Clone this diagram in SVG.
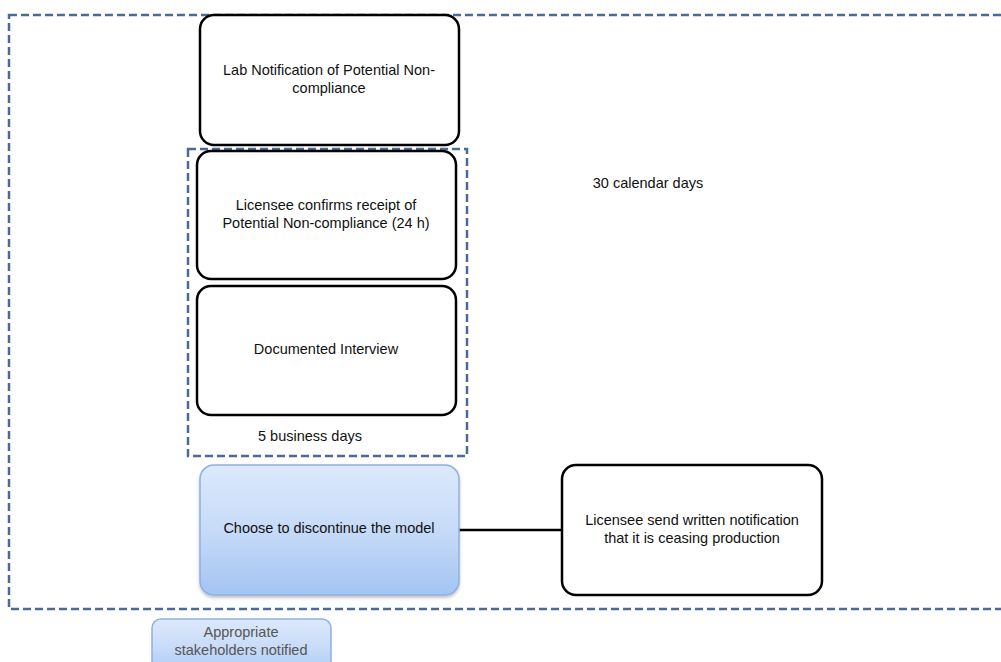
<svg xmlns="http://www.w3.org/2000/svg" width="1001" height="662" viewBox="0 0 1001 662">
<defs>
<linearGradient id="blueGrad" x1="0" y1="0" x2="0" y2="1">
<stop offset="0" stop-color="#dde9fc"/>
<stop offset="0.5" stop-color="#c6dbf8"/>
<stop offset="1" stop-color="#a4c4f2"/>
</linearGradient>
<filter id="sh" x="-10%" y="-10%" width="120%" height="130%">
<feDropShadow dx="0" dy="2" stdDeviation="1.5" flood-color="#000" flood-opacity="0.25"/>
</filter>
</defs>
<style>
.frame{fill:none;stroke:#4a6b9a;stroke-width:2.5;stroke-dasharray:8 4}
.box{fill:#fff;stroke:#000;stroke-width:2.5}
.blue{fill:url(#blueGrad);stroke:#8eb0e2;stroke-width:1.5}
.t{font-family:"Liberation Sans",Arial,sans-serif;font-size:14.5px;fill:#111;text-anchor:middle}
.g{font-family:"Liberation Sans",Arial,sans-serif;font-size:14.5px;fill:#555;text-anchor:middle}
.conn{stroke:#000;stroke-width:2.5;fill:none}
</style>
<rect width="1001" height="662" fill="#fff"/>
<g id="frame-30days">
<rect class="frame" x="9" y="15" width="1010" height="594"/>
<text class="t" x="648" y="188">30 calendar days</text>
</g>
<g id="frame-5days">
<rect class="frame" x="188" y="149" width="279" height="307"/>
<text class="t" x="310" y="441">5 business days</text>
</g>
<g id="connectors">
<line class="conn" x1="459" y1="530" x2="562" y2="530"/>
</g>
<g id="n-lab">
<rect class="box" x="200" y="15" width="259" height="130" rx="14"/>
<text class="t" x="329" y="75">Lab Notification of Potential Non-</text>
<text class="t" x="329" y="93">compliance</text>
</g>
<g id="n-confirm">
<rect class="box" x="197" y="151" width="259" height="128" rx="14"/>
<text class="t" x="326" y="210">Licensee confirms receipt of</text>
<text class="t" x="326" y="228">Potential Non-compliance (24 h)</text>
</g>
<g id="n-interview">
<rect class="box" x="197" y="286" width="259" height="129" rx="14"/>
<text class="t" x="326" y="354">Documented Interview</text>
</g>
<g id="n-discontinue">
<rect class="blue" x="200" y="465" width="259" height="130" rx="14" filter="url(#sh)"/>
<text class="t" x="329" y="533">Choose to discontinue the model</text>
</g>
<g id="n-written">
<rect class="box" x="562" y="465" width="260" height="130" rx="14"/>
<text class="t" x="692" y="525">Licensee send written notification</text>
<text class="t" x="692" y="543">that it is ceasing production</text>
</g>
<g id="n-stakeholders">
<rect class="blue" x="152" y="619" width="179" height="60" rx="9"/>
<text class="g" x="241" y="637">Appropriate</text>
<text class="g" x="241" y="655">stakeholders notified</text>
</g>
</svg>
